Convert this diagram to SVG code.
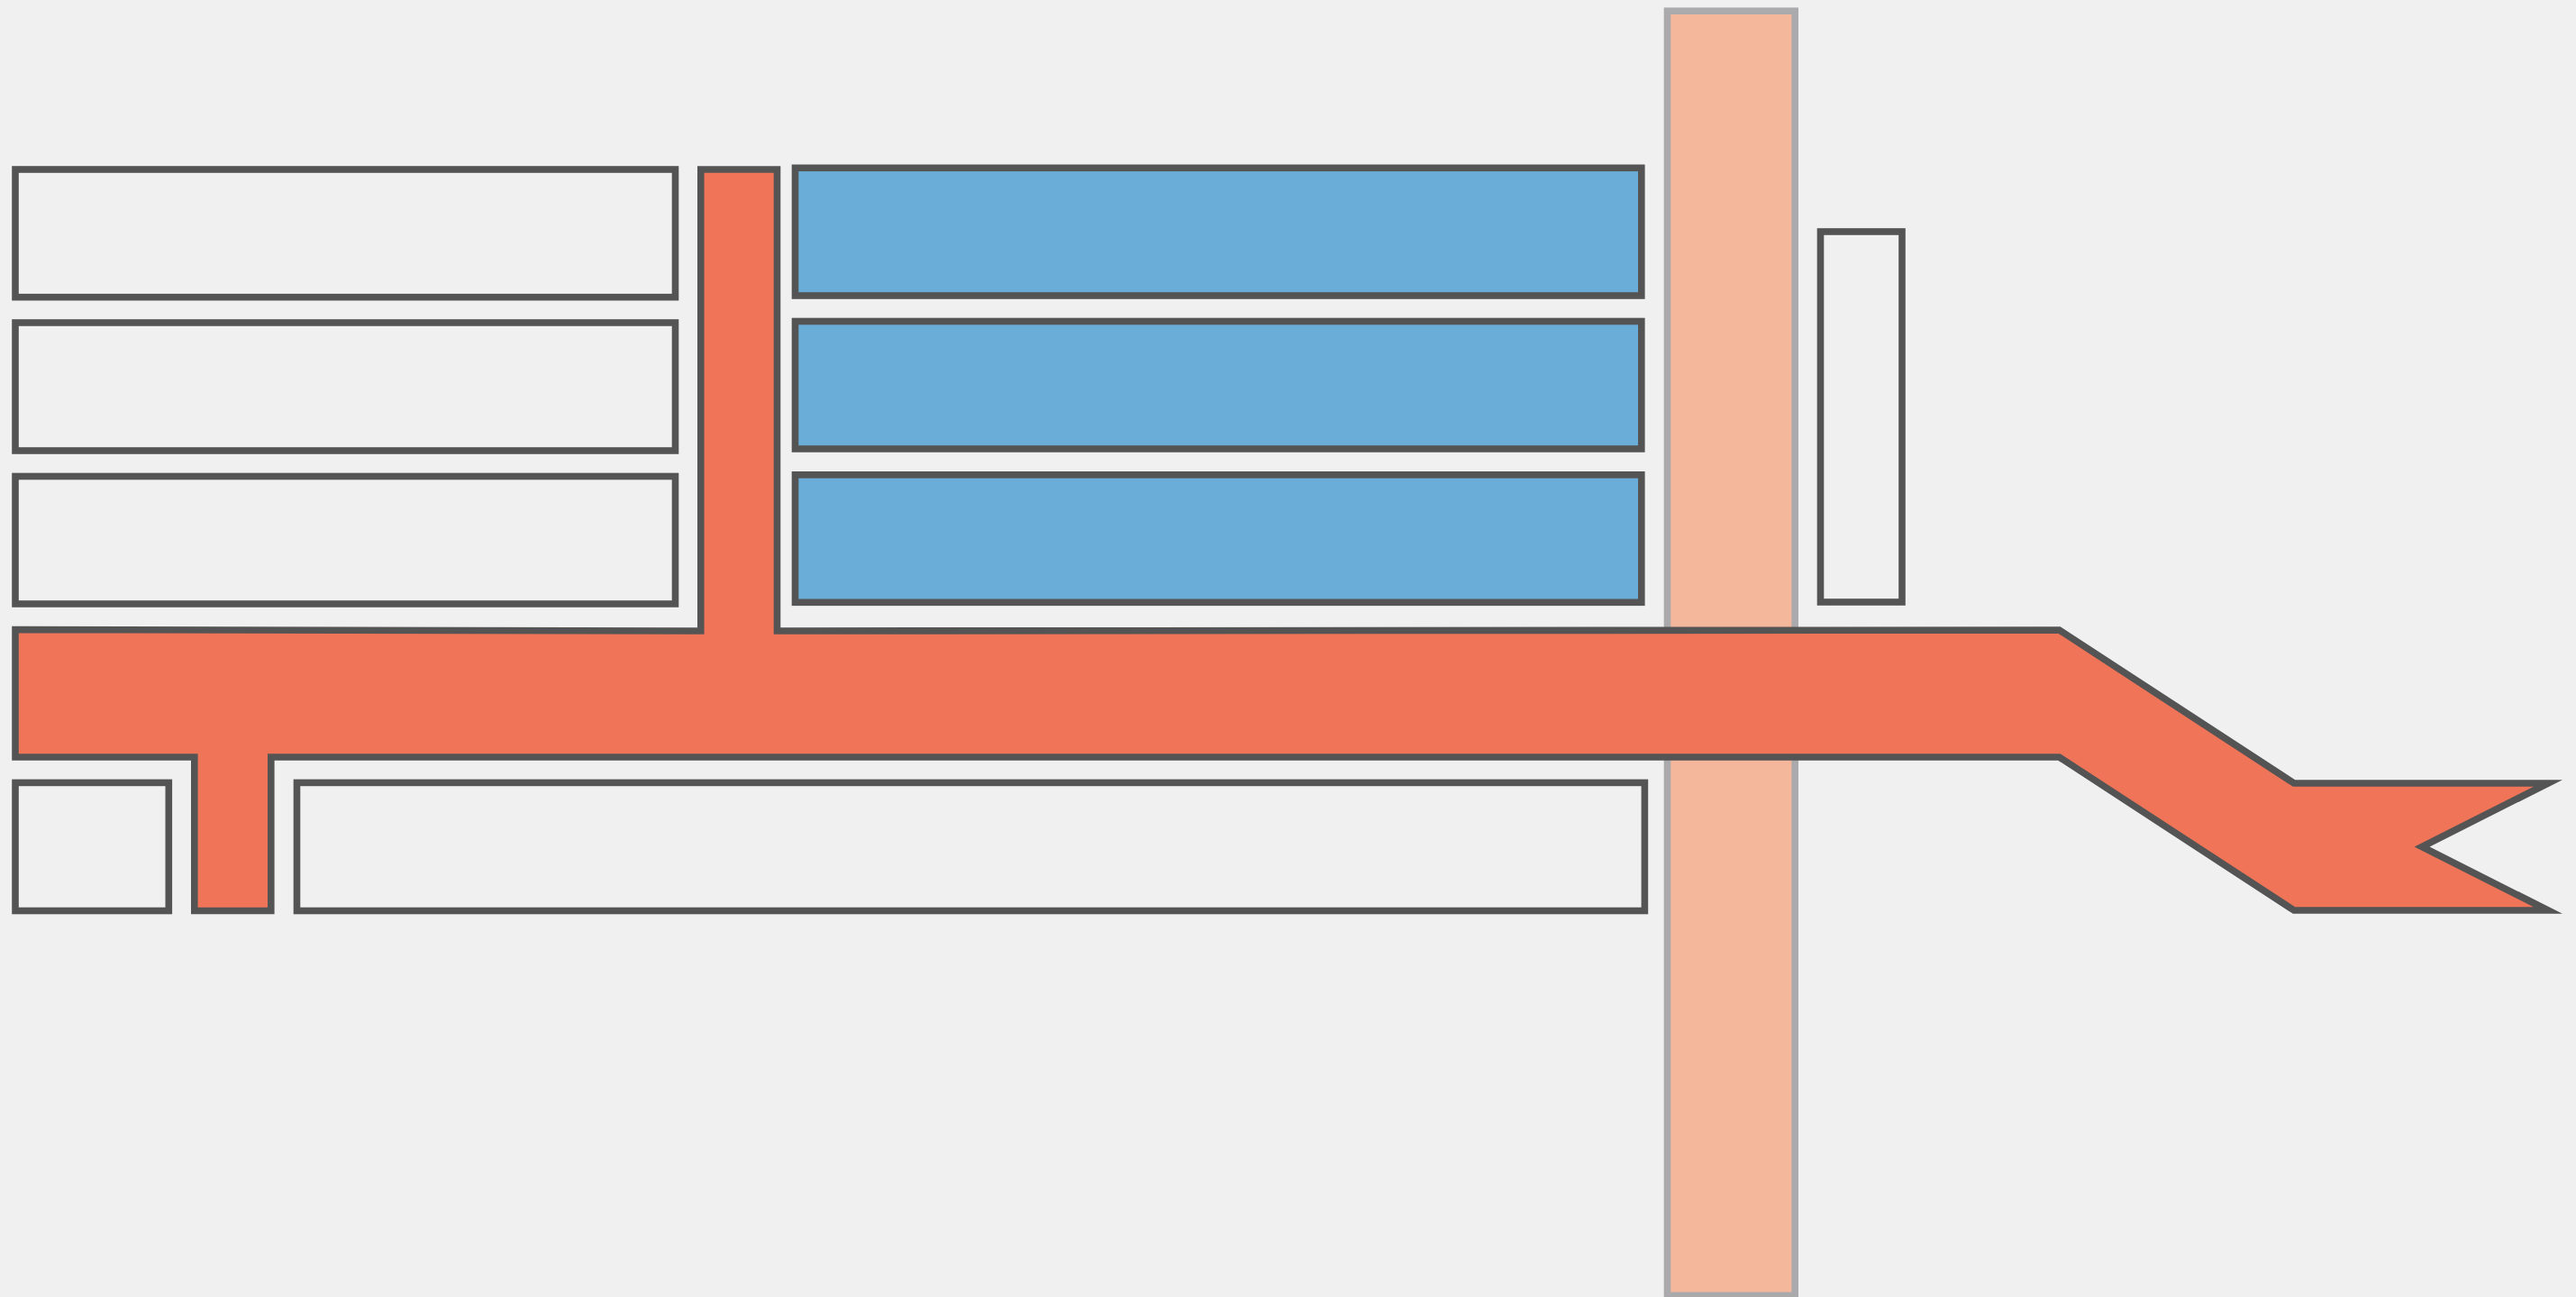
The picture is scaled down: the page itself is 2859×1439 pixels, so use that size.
<svg xmlns="http://www.w3.org/2000/svg" width="2859" height="1439" viewBox="0 0 2859 1439">
  <style>
    .box { fill: none; stroke: #555454; stroke-width: 7.6; }
    .blue { fill: #6aadd8; stroke: #555454; stroke-width: 7.6; }
    .peach { fill: #f5b79b; stroke: #aaaaad; stroke-width: 7.6; }
    .route { fill: #f07558; stroke: #555454; stroke-width: 7.6; stroke-miterlimit: 10; }
  </style>
  <rect x="0" y="0" width="2859" height="1439" fill="#f0f0f0"/>
  <g id="left-box-1"><rect class="box" x="17" y="188" width="732.5" height="141.7"/></g>
  <g id="left-box-2"><rect class="box" x="17" y="358" width="732.5" height="142"/></g>
  <g id="left-box-3"><rect class="box" x="17" y="528.5" width="732.5" height="141.5"/></g>
  <g id="blue-box-1"><rect class="blue" x="882.5" y="186.3" width="939.3" height="141.7"/></g>
  <g id="blue-box-2"><rect class="blue" x="882.5" y="356.5" width="939.3" height="141.5"/></g>
  <g id="blue-box-3"><rect class="blue" x="882.5" y="526.8" width="939.3" height="141.5"/></g>
  <g id="small-box"><rect class="box" x="2020.5" y="257" width="90.5" height="411"/></g>
  <g id="lower-left-box"><rect class="box" x="17" y="868.4" width="170.3" height="142.1"/></g>
  <g id="lower-big-box"><rect class="box" x="329.5" y="868.4" width="1495.9" height="142.1"/></g>
  <g id="peach-bar"><rect class="peach" x="1850.5" y="12.2" width="141.7" height="1425.1"/></g>
  <g id="connectors">
    <path class="route" d="M 17 698.5 L 777.8 700 L 777.8 188 L 862.5 188 L 862.5 700 L 2285.5 699 L 2546 869 L 2828 869 L 2688 939.5 L 2828 1010 L 2546 1010 L 2285.5 840 L 300.8 840 L 300.8 1010.5 L 215.8 1010.5 L 215.8 840 L 17 840 Z"/>
  </g>
</svg>
